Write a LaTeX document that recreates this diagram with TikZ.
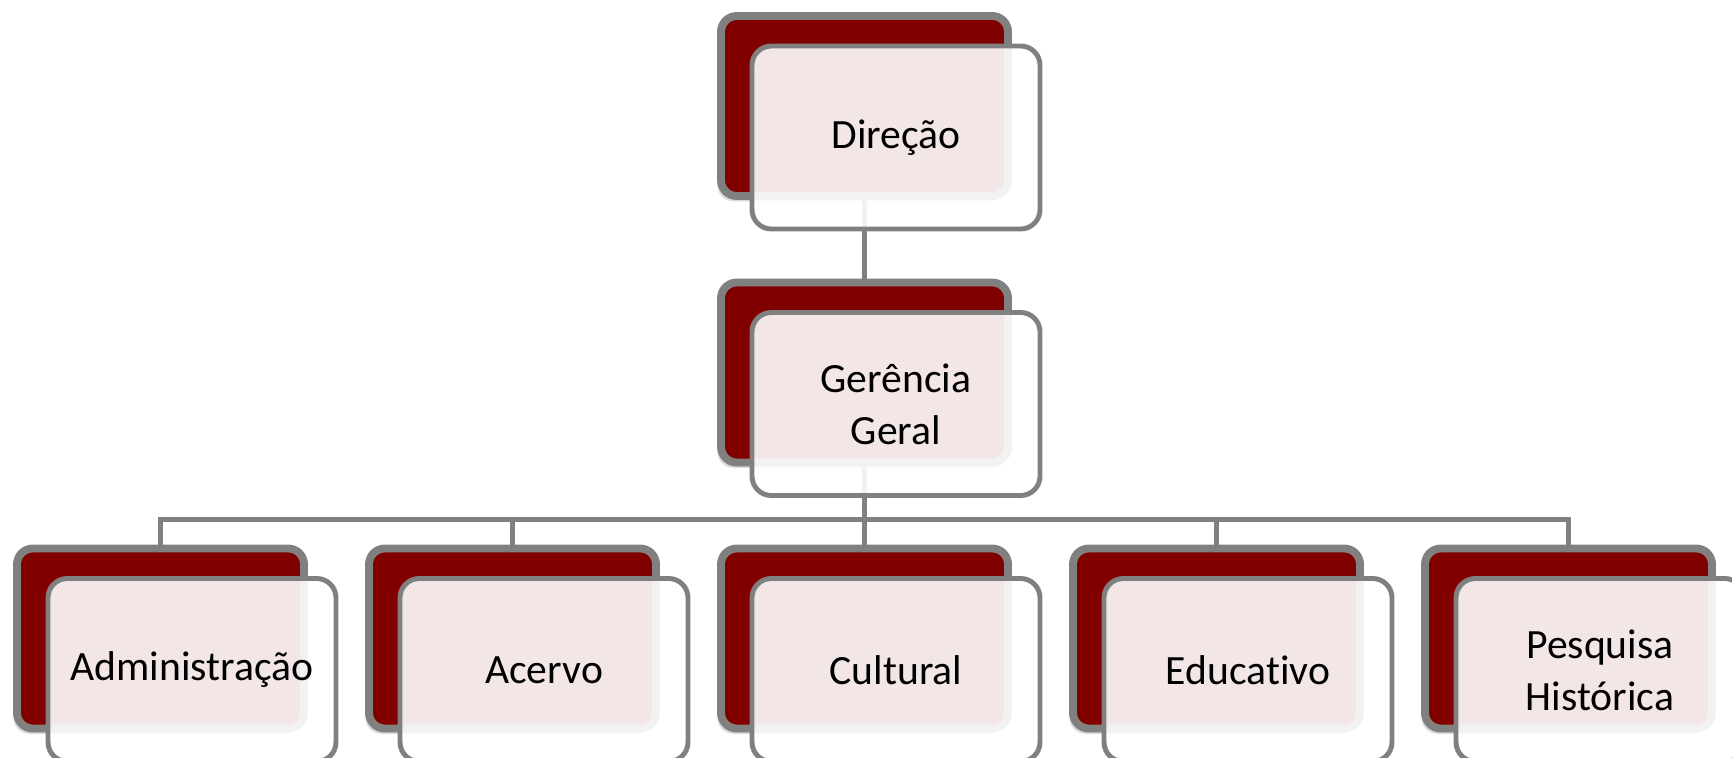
\documentclass[tikz,border=0pt]{standalone}
\usepackage{fontspec}
\setmainfont[Ligatures=NoCommon]{Carlito}
\usetikzlibrary{positioning,shadows}
\definecolor{boxred}{RGB}{128,0,0}
\definecolor{boxgray}{RGB}{128,128,128}

\begin{document}
\begin{tikzpicture}[
    back/.style={draw=boxgray,line width=4.5pt,fill=boxred,rounded corners=9pt,
      minimum width=5.74cm,minimum height=3.6cm,outer sep=0pt,
      drop shadow={shadow xshift=-2pt,shadow yshift=-3pt,opacity=.3}},
    front/.style={draw=boxgray,line width=2.8pt,fill=white,fill opacity=.9,
      text opacity=1,rounded corners=11pt,minimum width=5.76cm,
      minimum height=3.66cm,outer sep=0pt,align=center,
      font=\fontsize{23.7}{29.5}\selectfont},
    link/.style={draw=boxgray,line width=2.6pt}]
            \useasboundingbox (0,0) rectangle (34.64,-15.16);
            \clip (0,0) rectangle (34.64,-15.16);

            % dark boxes behind
            \node[back] (dir-b) at (17.29,-2.12) {};
            \node[back] (ger-b) [below=1.73cm of dir-b] {};
            \node[back] (cul-b) [below=1.72cm of ger-b] {};
            \node[back] (ace-b) [left=1.3cm of cul-b] {};
            \node[back] (adm-b) [left=1.3cm of ace-b] {};
            \node[back] (edu-b) [right=1.3cm of cul-b] {};
            \node[back] (pes-b) [right=1.3cm of edu-b] {};

            % connectors
            \coordinate (bus) at ([yshift=-1.14cm]ger-b.south);
            \path[link] (dir-b.south) -- (ger-b.north);
            \path[link] (ger-b.south) -- (bus);
            \foreach \n in {adm,ace,cul,edu,pes}
                \path[link] (\n-b.north) |- (bus);

            % light boxes in front
            \node[front] (dir) at ([shift={(0.63,-0.63)}]dir-b) {Direção};
            \node[front] (ger) at ([shift={(0.63,-0.63)}]ger-b) {Gerência\\Geral};
            \node[front] (adm) at ([shift={(0.63,-0.63)}]adm-b) {Administração};
            \node[front] (ace) at ([shift={(0.63,-0.63)}]ace-b) {Acervo};
            \node[front] (cul) at ([shift={(0.63,-0.63)}]cul-b) {Cultural};
            \node[front] (edu) at ([shift={(0.63,-0.63)}]edu-b) {Educativo};
            \node[front] (pes) at ([shift={(0.63,-0.63)}]pes-b) {Pesquisa\\Histórica};
        \end{tikzpicture}
\end{document}
